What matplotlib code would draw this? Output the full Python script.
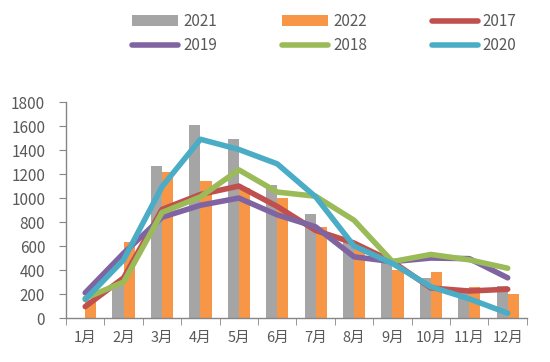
import matplotlib.pyplot as plt
import numpy as np

plt.rcParams['font.family'] = ['Noto Sans CJK SC', 'DejaVu Sans']

months = ['1月', '2月', '3月', '4月', '5月', '6月', '7月', '8月', '9月', '10月', '11月', '12月']

# 柱状数据
v2021 = [0, 290, 1270, 1610, 1495, 1105, 865, 650, 470, 330, 250, 265]
v2022 = [150, 630, 1215, 1145, 1080, 1000, 755, 600, 400, 385, 260, 200]

# 折线数据
v2017 = [95, 335, 905, 1030, 1100, 930, 730, 625, 470, 250, 225, 240]
v2019 = [210, 540, 840, 940, 1000, 860, 760, 510, 470, 500, 495, 335]
v2018 = [165, 300, 880, 1010, 1235, 1050, 1015, 815, 470, 530, 485, 415]
v2020 = [155, 485, 1095, 1490, 1405, 1285, 1010, 600, 455, 260, 160, 40]

fig = plt.figure(figsize=(5.5, 3.62), dpi=100)
ax = fig.add_axes([0.12, 0.1215, 0.838, 0.5965])

x = np.arange(len(months))
w = 0.29
b1 = ax.bar(x - 0.145, v2021, w, color='#A5A5A5', label='2021', zorder=2)
b2 = ax.bar(x + 0.145, v2022, w, color='#F79646', label='2022', zorder=2)

lw = 4
l17, = ax.plot(x, v2017, color='#C0504D', lw=lw, label='2017', solid_capstyle='round', zorder=3)
l19, = ax.plot(x, v2019, color='#8064A2', lw=lw, label='2019', solid_capstyle='round', zorder=3)
l18, = ax.plot(x, v2018, color='#9BBB59', lw=lw, label='2018', solid_capstyle='round', zorder=3)
l20, = ax.plot(x, v2020, color='#4BACC6', lw=lw, label='2020', solid_capstyle='round', zorder=3)

ax.set_xlim(-0.5, 11.5)
ax.set_ylim(0, 1800)
ax.set_yticks(np.arange(0, 1801, 200))
ax.set_xticks(x)
ax.set_xticklabels(months)
ax.set_xticks(np.arange(-0.5, 12, 1), minor=True)
ax.tick_params(axis='x', which='major', length=0, pad=9, labelsize=10.5)
ax.tick_params(axis='x', which='minor', length=5, color='#868686', direction='out')
ax.tick_params(axis='y', length=5, color='#868686', direction='out', pad=10, labelsize=11)
ax.tick_params(labelcolor='#595959')

for s in ['top', 'right']:
    ax.spines[s].set_visible(False)
for s in ['left', 'bottom']:
    ax.spines[s].set_color('#868686')
    ax.spines[s].set_linewidth(1)

handles = [b1, l19, b2, l18, l17, l20]
labels = ['2021', '2019', '2022', '2018', '2017', '2020']
fig.legend(handles, labels, ncol=3, loc='center', bbox_to_anchor=(0.59, 0.9075),
           frameon=False, fontsize=11, labelcolor='#595959', handlelength=3.0,
           handletextpad=0.33, columnspacing=4.25, labelspacing=0.45)

fig.savefig('out.png', dpi=100)
